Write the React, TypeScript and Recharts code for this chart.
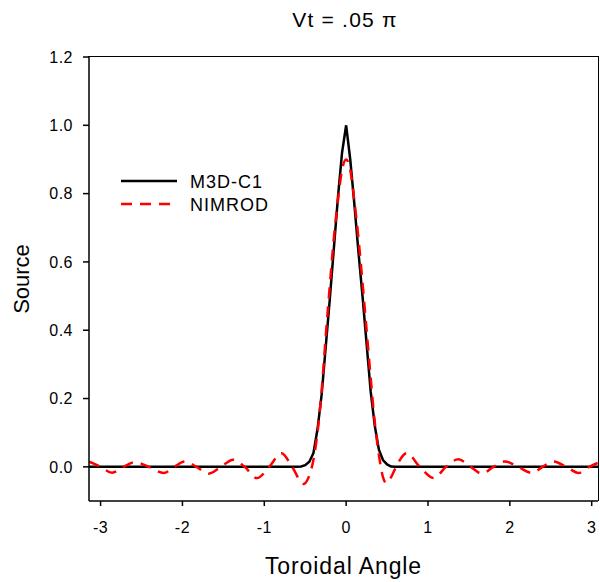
import { LineChart, Line, XAxis, YAxis, Legend } from 'recharts'

// toroidal angle (rad) and source
const m3dAngle = [-3.1416, -0.6, -0.55, -0.5, -0.45, -0.4, -0.35, -0.3, -0.25, -0.2, -0.15, -0.1, -0.05, 0, 0.05, 0.1, 0.15, 0.2, 0.25, 0.3, 0.35, 0.4, 0.45, 0.5, 0.55, 0.6, 3.1416]
const m3dSource = [0, 0, 0.001, 0.005, 0.015, 0.04, 0.11, 0.21, 0.35, 0.49, 0.64, 0.79, 0.92, 1.0, 0.9, 0.77, 0.63, 0.5, 0.36, 0.22, 0.12, 0.05, 0.02, 0.007, 0.001, 0, 0]

const nimAngle = [-3.1416, -3.0, -2.86, -2.72, -2.58, -2.41, -2.23, -2.1, -1.97, -1.83, -1.68, -1.53, -1.38, -1.24, -1.09, -0.94, -0.79, -0.66, -0.52, -0.45, -0.4, -0.35, -0.3, -0.25, -0.2, -0.15, -0.1, -0.05, 0, 0.05, 0.1, 0.15, 0.2, 0.25, 0.3, 0.35, 0.4, 0.45, 0.49, 0.55, 0.62, 0.74, 0.9, 1.07, 1.22, 1.37, 1.52, 1.66, 1.8, 1.94, 2.1, 2.27, 2.4, 2.53, 2.69, 2.84, 2.97, 3.1416]
const nimSource = [0.015, 0, -0.017, 0, 0.014, 0, -0.018, 0, 0.016, 0, -0.02, 0, 0.021, 0, -0.033, 0, 0.04, 0, -0.05, -0.025, 0.02, 0.1, 0.22, 0.38, 0.53, 0.67, 0.78, 0.87, 0.9, 0.87, 0.78, 0.67, 0.54, 0.4, 0.26, 0.13, 0.035, -0.03, -0.048, -0.03, 0.005, 0.04, 0, -0.033, 0, 0.022, 0, -0.02, 0, 0.016, 0, -0.018, 0, 0.016, 0, -0.018, 0, 0.018]

const xTicks = [-3, -2, -1, 0, 1, 2, 3]
const yTicks = [0, 0.2, 0.4, 0.6, 0.8, 1.0, 1.2]

const m3d = m3dAngle.map((x, i) => ({ x, y: m3dSource[i] }))
const nim = nimAngle.map((x, i) => ({ x, y: nimSource[i] }))

const font = '"Liberation Sans", Arial, sans-serif'
const xDomain = [-3.1416, 3.077]
const yDomain = [-0.1, 1.2]

const XTick = (p: any) => (
  <text x={p.x} y={p.y} dy="0.71em" textAnchor="middle" fontSize={16} fontFamily={font} letterSpacing={0.5} fill="#000">
    {p.payload.value}
  </text>
)

const YTick = (p: any) => (
  <text x={p.x} y={p.y} dy="0.355em" textAnchor="end" fontSize={16} fontFamily={font} letterSpacing={0.5} fill="#000">
    {Number(p.payload.value).toFixed(1)}
  </text>
)

function LegendBox() {
  return (
    <svg width={170} height={50} style={{ display: 'block' }}>
      <line x1={6} x2={62} y1={16} y2={16} stroke="#000" strokeWidth={2.5} />
      <line x1={6} x2={58} y1={39} y2={39} stroke="#ff0000" strokeWidth={2.5} strokeDasharray="11 8" />
      <text x={75} y={22.5} fontSize={18} fontFamily={font} letterSpacing={1}>M3D-C1</text>
      <text x={75} y={45.5} fontSize={18} fontFamily={font} letterSpacing={1}>NIMROD</text>
    </svg>
  )
}

export default function App() {
  return (
    <div style={{ position: 'absolute', left: 0, top: 0, width: 600, height: 582, overflow: 'hidden', background: '#fff', fontFamily: font }}>
      <div style={{ position: 'absolute', left: 245, top: 8, width: 200, textAlign: 'center', fontSize: 21, lineHeight: '24px', letterSpacing: 1.2 }}>
        Vt = .05 π
      </div>
      <LineChart width={600} height={582} data={m3d} margin={{ top: 57, right: 2, bottom: 51, left: 19 }}>
        <XAxis
          type="number"
          dataKey="x"
          domain={xDomain}
          allowDataOverflow
          ticks={xTicks}
          tick={XTick}
          tickSize={5}
          tickMargin={16}
          height={30}
          axisLine={{ stroke: '#000', strokeWidth: 1.5 }}
          tickLine={{ stroke: '#000', strokeWidth: 1.5 }}
          label={{ value: 'Toroidal Angle', position: 'bottom', offset: 27, fill: '#000', fontSize: 23, fontFamily: font, letterSpacing: 0.9 }}
        />
        <YAxis
          type="number"
          domain={yDomain}
          allowDataOverflow
          ticks={yTicks}
          tick={YTick}
          tickSize={6}
          tickMargin={10}
          width={70}
          axisLine={{ stroke: '#000', strokeWidth: 1.5 }}
          tickLine={{ stroke: '#000', strokeWidth: 1.5 }}
          label={{ value: 'Source', angle: -90, position: 'insideLeft', offset: 2, fill: '#000', fontSize: 22, fontFamily: font, style: { textAnchor: 'middle' } }}
        />
        <Legend layout="vertical" align="center" verticalAlign="middle" wrapperStyle={{ left: 115, top: 165, width: 170 }} content={() => <LegendBox />} />
        <Line data={m3d} dataKey="y" name="M3D-C1" type="linear" stroke="#000" strokeWidth={2.5} dot={false} isAnimationActive={false} />
        <Line data={nim} dataKey="y" name="NIMROD" type="monotone" stroke="#ff0000" strokeWidth={2.5} strokeDasharray="11 8" dot={false} isAnimationActive={false} />
      </LineChart>
      {/* top and right edges of the plot frame */}
      <div style={{ position: 'absolute', left: 88.25, top: 56.25, width: 510.5, height: 445, borderTop: '1.5px solid #000', borderRight: '1.5px solid #000', boxSizing: 'border-box', pointerEvents: 'none' }} />
    </div>
  )
}
